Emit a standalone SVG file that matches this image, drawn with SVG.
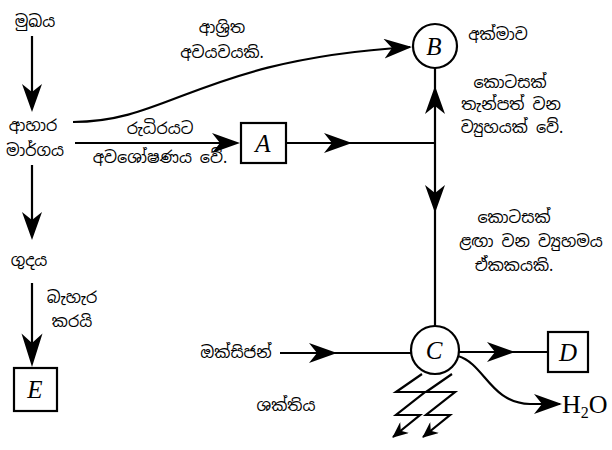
<svg xmlns="http://www.w3.org/2000/svg" xmlns:xlink="http://www.w3.org/1999/xlink" width="612" height="450" viewBox="0 0 612 450">
<style>
.si{font-family:"Noto Sans Sinhala","Noto Serif Sinhala","Noto Sans",sans-serif;font-size:16px;fill:#000;text-anchor:middle}
.lb{font-family:"Liberation Serif","Times New Roman",serif;font-style:italic;font-size:25px;fill:#000;text-anchor:middle}
.ln{fill:none;stroke:#000;stroke-width:2.2}
.bx{fill:#fff;stroke:#000;stroke-width:2.2}
</style>
<defs>
<path id="ah" d="M0,0 L-28,-10 L-20,0 L-28,10 Z" fill="#000"/>
<marker id="me" viewBox="-28 -10 28 20" refX="-2" refY="0" markerWidth="28" markerHeight="20" markerUnits="userSpaceOnUse" orient="auto">
<path d="M0,0 L-28,-10 L-20,0 L-28,10 Z" fill="#000"/>
</marker>
<marker id="ms" viewBox="-16 -7 16 14" refX="-1" refY="0" markerWidth="16" markerHeight="14" markerUnits="userSpaceOnUse" orient="auto">
<path d="M0,0 L-16,-7 L-11,0 L-16,7 Z" fill="#000"/>
</marker>
</defs>
<rect width="612" height="450" fill="#fff"/>
<g id="connectors">
<line class="ln" x1="32" y1="36" x2="32" y2="100"/>
<use xlink:href="#ah" transform="translate(32,112) rotate(90)"/>
<line class="ln" x1="32" y1="165" x2="32" y2="228"/>
<use xlink:href="#ah" transform="translate(32,240) rotate(90)"/>
<line class="ln" x1="32" y1="283" x2="32" y2="360"/>
<use xlink:href="#ah" transform="translate(32,367) scale(1.05,1.2) rotate(90)"/>
<path class="ln" d="M73,122 C170,122 200,60 410,47" marker-end="url(#me)"/>
<line class="ln" x1="75" y1="143" x2="225" y2="143"/>
<use xlink:href="#ah" transform="translate(240,143)"/>
<line class="ln" x1="286" y1="143" x2="435" y2="143"/>
<use xlink:href="#ah" transform="translate(352,143)"/>
<line class="ln" x1="435" y1="68" x2="435" y2="326"/>
<use xlink:href="#ah" transform="translate(435,86) rotate(-90)"/>
<use xlink:href="#ah" transform="translate(435,213) rotate(90)"/>
<line class="ln" x1="280" y1="353" x2="411" y2="353"/>
<use xlink:href="#ah" transform="translate(337,353)"/>
<line class="ln" x1="459" y1="352" x2="548" y2="352"/>
<use xlink:href="#ah" transform="translate(515,352)"/>
<path class="ln" d="M458,356 C485,364 490,403 530,404 L560,404" marker-end="url(#me)"/>
<path class="ln" d="M422,374 L396,392 L425,392 L396,415 L420,415 L393,437" marker-end="url(#ms)"/>
<path class="ln" d="M452,374 L426,392 L455,392 L426,415 L450,415 L423,437" marker-end="url(#ms)"/>
</g>
<g id="mouth"><text class="si" x="35" y="27">මුඛය</text></g>
<g id="gut"><text class="si" x="33" y="131">ආහාර</text><text class="si" x="35" y="156">මාර්ගය</text></g>
<g id="anus"><text class="si" x="29" y="266">ගුදය</text></g>
<g id="remove-label"><text class="si" x="72" y="303">බැහැර</text><text class="si" x="72" y="327">කරයි</text></g>
<g id="organ-label"><text class="si" x="222" y="33">ආශ්‍රිත</text><text class="si" x="222" y="58">අවයවයකි.</text></g>
<g id="absorb-label"><text class="si" x="160" y="134">රුධිරයට</text><text class="si" x="160" y="163">අවශෝෂණය වේ.</text></g>
<g id="nodeA"><rect class="bx" x="241" y="123" width="45" height="40"/><text class="lb" x="263" y="152">A</text></g>
<g id="nodeB"><circle class="bx" cx="435" cy="46" r="22"/><text class="lb" x="434" y="55">B</text></g>
<g id="liver"><text class="si" x="498" y="40">අක්මාව</text></g>
<g id="store-label"><text class="si" x="510" y="88">කොටසක්</text><text class="si" x="511" y="110">තැන්පත් වන</text><text class="si" x="512" y="133">ව්‍යුහයක් වේ.</text></g>
<g id="unit-label"><text class="si" x="514" y="223">කොටසක්</text><text class="si" x="531" y="247">ළඟා වන ව්‍යුහමය</text><text class="si" x="514" y="271">ඒකකයකි.</text></g>
<g id="oxygen"><text class="si" x="236" y="358">ඔක්සිජන්</text></g>
<g id="nodeC"><circle class="bx" cx="435" cy="350" r="24"/><text class="lb" x="434" y="359">C</text></g>
<g id="nodeD"><rect class="bx" x="548" y="332" width="40" height="40"/><text class="lb" x="568" y="361">D</text></g>
<g id="water"><text x="562" y="413" font-family="Liberation Serif, serif" font-size="26">H<tspan font-size="16" dy="5">2</tspan><tspan dy="-5">O</tspan></text></g>
<g id="energy"><text class="si" x="286" y="411">ශක්තිය</text></g>
<g id="nodeE"><rect class="bx" x="14" y="368" width="43" height="43"/><text class="lb" x="35" y="398">E</text></g>
</svg>
